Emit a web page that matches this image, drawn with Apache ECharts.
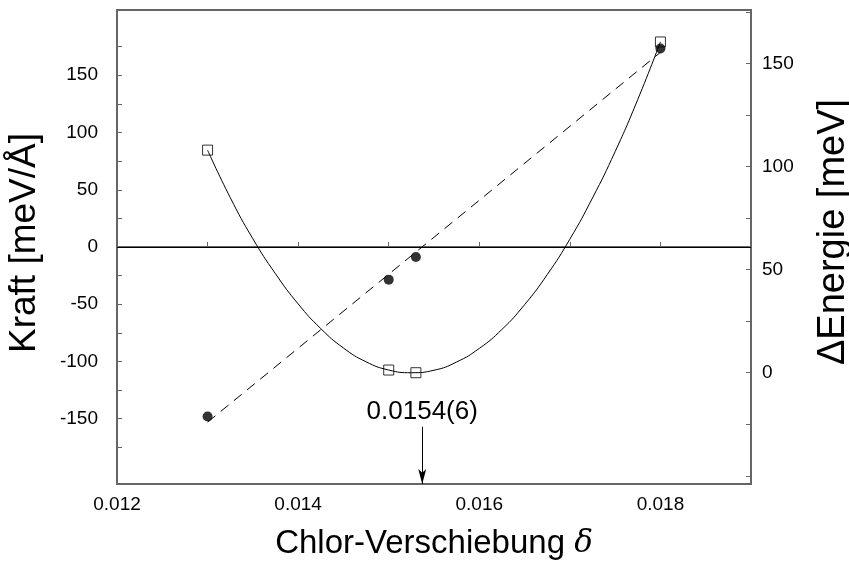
<!DOCTYPE html>
<html>
<head>
<meta charset="utf-8">
<script src="https://cdn.jsdelivr.net/npm/echarts@6/dist/echarts.min.js"></script>
<style>
  html, body { margin: 0; padding: 0; background: #fff; }
  #chart { width: 849px; height: 563px; }
</style>
</head>
<body>
<div id="chart"></div>
<script>
// Messpunkte
const shift = [0.013, 0.015, 0.0153, 0.018]
const force = [-148, -28.5, -8.7, 173.4]     // meV/Å, linke Achse
const energy = [108, 1.3, 0, 160.5]          // meV, rechte Achse

// lineare Anpassung der Kraft (gestrichelt)
const fitShift = [0.013, 0.018]
const fitForce = [-153, 170]

// Parabel der Energie (durchgezogen)
const curveShift = [0.013, 0.01325, 0.0135, 0.01375, 0.014, 0.01425, 0.0145, 0.01475,
  0.015, 0.01525, 0.0155, 0.01575, 0.016, 0.01625, 0.0165, 0.01675, 0.017,
  0.01725, 0.0175, 0.01775, 0.018]
const curveEnergy = [108, 85, 65, 48, 33.4, 21.4, 12, 5.3,
  1.3, 0, 1.2, 5.2, 11.8, 21, 33, 47.6, 64.8,
  84.8, 107.3, 132.6, 160.5]

// Pfeil mit Ergebnis
const arrowShift = 0.01537
const arrowTop = -157
const arrowText = '0.0154(6)'

// Achsen
const xLabels = [0.012, 0.014, 0.016, 0.018]
const xTicks = [0.012, 0.013, 0.014, 0.015, 0.016, 0.017, 0.018, 0.019]
const forceLabels = [-150, -100, -50, 0, 50, 100, 150]
const forceTicks = [-175, -150, -125, -100, -75, -50, -25, 0, 25, 50, 75, 100, 125, 150, 175]
const energyLabels = [0, 50, 100, 150]
const energyTicks = [-50, -25, 0, 25, 50, 75, 100, 125, 150, 175]

const font = 'Liberation Sans'
const frame = '#666'

const zip = (a, b) => a.map((v, i) => [v, b[i]])

const chart = echarts.init(document.getElementById('chart'))

const yCommon = {
  type: 'value',
  nameLocation: 'middle',
  axisLine: { show: true, lineStyle: { color: frame, width: 2 } },
  splitLine: { show: false }
}

chart.setOption({
  animation: false,
  grid: {
    left: 117, right: 98, top: 10, bottom: 79,
    outerBoundsMode: 'none',
    containLabel: false,
    show: true, borderColor: frame, borderWidth: 2
  },
  xAxis: {
    type: 'value',
    min: 0.012,
    max: 0.019,
    name: 'Chlor-Verschiebung {d|δ}',
    nameLocation: 'middle',
    nameGap: 43,
    nameTextStyle: {
      fontFamily: font, fontSize: 33, color: '#000',
      rich: { d: { fontFamily: 'DejaVu Serif', fontStyle: 'italic', fontSize: 31, color: '#000' } }
    },
    axisLine: { lineStyle: { color: frame, width: 2 } },
    axisTick: { inside: true, length: 5, customValues: xTicks, lineStyle: { color: frame } },
    axisLabel: {
      customValues: xLabels, margin: 11,
      fontFamily: font, fontSize: 19, color: '#000',
      formatter: v => v.toFixed(3)
    },
    splitLine: { show: false }
  },
  yAxis: [
    Object.assign({}, yCommon, {
      position: 'left',
      min: -207,
      max: 207,
      name: 'Kraft [meV/Å]',
      nameGap: 74,
      nameTextStyle: { fontFamily: font, fontSize: 37, color: '#000', padding: [0, 0, 0, 8] },
      axisTick: { inside: true, length: 5, customValues: forceTicks, lineStyle: { color: frame } },
      axisLabel: { customValues: forceLabels, margin: 19, fontFamily: font, fontSize: 19, color: '#000' }
    }),
    Object.assign({}, yCommon, {
      position: 'right',
      min: -54,
      max: 176,
      name: 'ΔEnergie [meV]',
      nameGap: 64,
      nameTextStyle: { fontFamily: font, fontSize: 38, color: '#000', padding: [0, 0, 0, 30] },
      axisTick: { inside: true, length: 5, customValues: energyTicks, lineStyle: { color: frame } },
      axisLabel: { customValues: energyLabels, margin: 11, fontFamily: font, fontSize: 19, color: '#000' }
    })
  ],
  series: [
    {
      // Nulllinie der Kraft
      type: 'line',
      yAxisIndex: 0,
      data: [],
      markLine: {
        silent: true,
        symbol: 'none',
        label: { show: false },
        lineStyle: { color: '#000', width: 1, type: 'solid' },
        data: [{ yAxis: 0 }]
      }
    },
    {
      type: 'line',
      yAxisIndex: 0,
      data: zip(fitShift, fitForce),
      showSymbol: false,
      lineStyle: { color: '#000', width: 1, type: [10, 7] },
      z: 2
    },
    {
      type: 'line',
      yAxisIndex: 1,
      data: zip(curveShift, curveEnergy),
      smooth: true,
      showSymbol: false,
      lineStyle: { color: '#000', width: 1 },
      z: 2
    },
    {
      type: 'scatter',
      yAxisIndex: 0,
      data: zip(shift, force),
      symbol: 'circle',
      symbolSize: 10,
      itemStyle: { color: '#000' },
      z: 5
    },
    {
      type: 'scatter',
      yAxisIndex: 1,
      data: zip(shift, energy),
      symbol: 'rect',
      symbolSize: 10,
      itemStyle: { color: 'rgba(0,0,0,0)', borderColor: '#000', borderWidth: 1 },
      z: 5
    },
    {
      // Pfeil auf das Ergebnis
      type: 'line',
      yAxisIndex: 0,
      data: [],
      markLine: {
        silent: true,
        symbol: ['none', 'arrow'],
        symbolSize: [6, 15],
        lineStyle: { color: '#000', width: 1, type: 'solid' },
        label: {
          show: true,
          position: 'start',
          distance: 2,
          formatter: arrowText,
          fontFamily: font,
          fontSize: 26,
          color: '#000'
        },
        data: [[{ coord: [arrowShift, arrowTop] }, { coord: [arrowShift, -207] }]]
      }
    }
  ]
})
</script>
</body>
</html>
